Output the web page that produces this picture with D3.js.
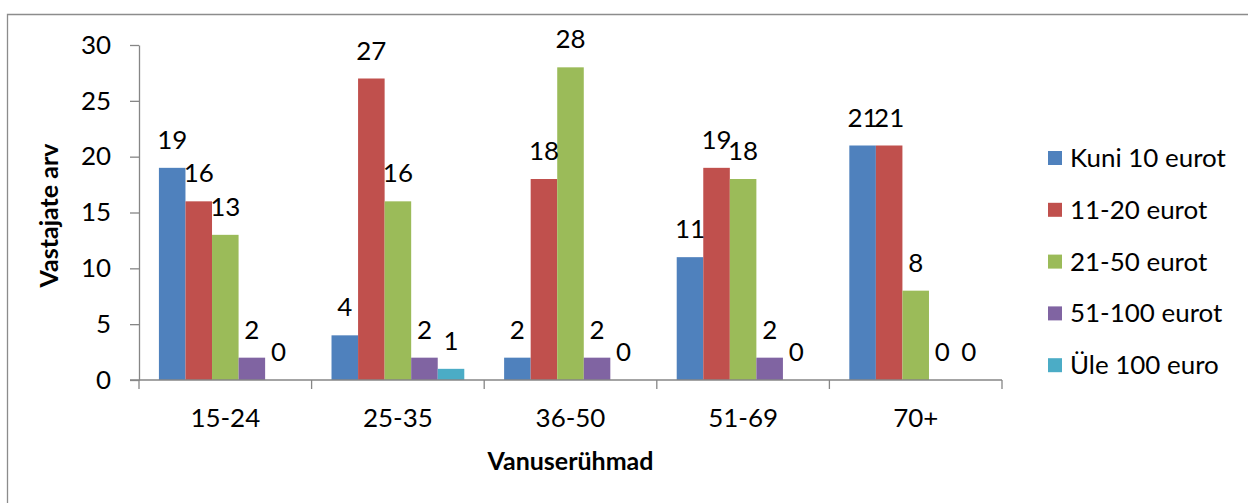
<!DOCTYPE html>
<html>
<head>
<meta charset="utf-8">
<script src="https://cdn.jsdelivr.net/npm/d3@7"></script>
<style>
  html, body { margin: 0; padding: 0; background: #fff; }
  svg { display: block; }
  text { font-family: Lato, "Open Sans", sans-serif; fill: #000; }
</style>
</head>
<body>
<svg id="chart" width="1248" height="503"></svg>
<script>
// Age groups on the x axis
const categories = ["15-24", "25-35", "36-50", "51-69", "70+"];
// Spending bands (series)
const seriesNames = ["Kuni 10 eurot", "11-20 eurot", "21-50 eurot", "51-100 eurot", "Üle 100 euro"];
const seriesColors = ["#4F81BD", "#C0504D", "#9BBB59", "#8064A2", "#4BACC6"];
// Respondent counts per series, one value per age group
const kuni10 = [19, 4, 2, 11, 21];
const eur11to20 = [16, 27, 18, 19, 21];
const eur21to50 = [13, 16, 28, 18, 8];
const eur51to100 = [2, 2, 2, 2, 0];
const ule100 = [0, 1, 0, 0, 0];
const seriesValues = [kuni10, eur11to20, eur21to50, eur51to100, ule100];
const yTicks = [0, 5, 10, 15, 20, 25, 30];

const svg = d3.select("#chart");
const plot = { left: 139, right: 1002, top: 45, bottom: 380 };

// pick a font size so that a sample string spans the wanted width
function fitSize(str, width, weight) {
  const t = svg.append("text").attr("font-size", 100).attr("font-weight", weight || "normal").text(str);
  const w = t.node().getComputedTextLength();
  t.remove();
  return 100 * width / w;
}
const bodySize = fitSize("Kuni 10 eurot", 156);
const titleSizeY = fitSize("Vastajate arv", 144, "bold");
const titleSizeX = fitSize("Vanuserühmad", 166, "bold");

// outer frame of the chart area (right/bottom edges fall outside the view)
svg.append("path")
  .attr("d", "M7.5,520V14.5H1260")
  .attr("fill", "none")
  .attr("stroke", "#8c8c8c")
  .attr("stroke-width", 1.3);

const x0 = d3.scaleBand().domain(categories).range([plot.left, plot.right]).paddingInner(0).paddingOuter(0);
const gap = x0.bandwidth() * 0.75 / 6.5;
const x1 = d3.scaleBand().domain(d3.range(seriesNames.length))
  .range([gap, x0.bandwidth() - gap]).padding(0);
const y = d3.scaleLinear().domain([0, 30]).range([plot.bottom, plot.top]);

const axisColor = "#868686";

// y axis
const yAxis = d3.axisLeft(y).tickValues(yTicks).tickSize(9).tickPadding(19).tickSizeOuter(0);
const gy = svg.append("g").attr("transform", `translate(${plot.left},0)`).call(yAxis);
gy.selectAll("path, line").attr("stroke", axisColor).attr("stroke-width", 1.3);
gy.selectAll("text").attr("font-size", bodySize).attr("font-family", "Lato, sans-serif").attr("fill", "#000");

// bars
const groups = svg.append("g").selectAll("g")
  .data(categories)
  .join("g")
  .attr("transform", d => `translate(${x0(d)},0)`);

groups.selectAll("rect")
  .data((c, ci) => seriesValues.map((vals, si) => ({ si, v: vals[ci] })))
  .join("rect")
  .attr("x", d => x1(d.si))
  .attr("width", x1.bandwidth())
  .attr("y", d => y(d.v))
  .attr("height", d => y(0) - y(d.v))
  .attr("fill", d => seriesColors[d.si]);

// value labels above every bar
groups.selectAll("text.val")
  .data((c, ci) => seriesValues.map((vals, si) => ({ si, v: vals[ci] })))
  .join("text")
  .attr("class", "val")
  .attr("x", d => x1(d.si) + x1.bandwidth() / 2)
  .attr("y", d => y(d.v) - 28)
  .attr("dy", "0.35em")
  .attr("text-anchor", "middle")
  .attr("font-size", bodySize)
  .text(d => d.v);

// x axis: baseline with ticks at category boundaries
const gx = svg.append("g");
gx.append("line")
  .attr("x1", plot.left - 9).attr("x2", plot.right)
  .attr("y1", plot.bottom).attr("y2", plot.bottom)
  .attr("stroke", axisColor).attr("stroke-width", 1.3);
const boundaries = categories.map(c => x0(c)).concat([x0(categories[categories.length - 1]) + x0.bandwidth()]);
gx.selectAll("line.tick")
  .data(boundaries)
  .join("line")
  .attr("class", "tick")
  .attr("x1", d => d).attr("x2", d => d)
  .attr("y1", plot.bottom).attr("y2", plot.bottom + 9)
  .attr("stroke", axisColor).attr("stroke-width", 1.3);
gx.selectAll("text")
  .data(categories)
  .join("text")
  .attr("x", d => x0(d) + x0.bandwidth() / 2)
  .attr("y", 418)
  .attr("dy", "0.35em")
  .attr("text-anchor", "middle")
  .attr("font-size", bodySize)
  .text(d => d);

// axis titles
svg.append("text")
  .attr("transform", `translate(49,${(plot.top + plot.bottom) / 2 + 3}) rotate(-90)`)
  .attr("text-anchor", "middle")
  .attr("dy", "0.35em")
  .attr("font-size", titleSizeY)
  .attr("font-weight", "bold")
  .text("Vastajate arv");

svg.append("text")
  .attr("x", (plot.left + plot.right) / 2)
  .attr("y", 461)
  .attr("dy", "0.35em")
  .attr("text-anchor", "middle")
  .attr("font-size", titleSizeX)
  .attr("font-weight", "bold")
  .text("Vanuserühmad");

// legend
const legend = svg.append("g").selectAll("g")
  .data(seriesNames)
  .join("g")
  .attr("transform", (d, i) => `translate(1048,${158 + i * 51.8})`);
legend.append("rect")
  .attr("x", 0).attr("y", -7)
  .attr("width", 14).attr("height", 14)
  .attr("fill", (d, i) => seriesColors[i]);
legend.append("text")
  .attr("x", 22)
  .attr("dy", "0.35em")
  .attr("font-size", bodySize)
  .text(d => d);
</script>
</body>
</html>
